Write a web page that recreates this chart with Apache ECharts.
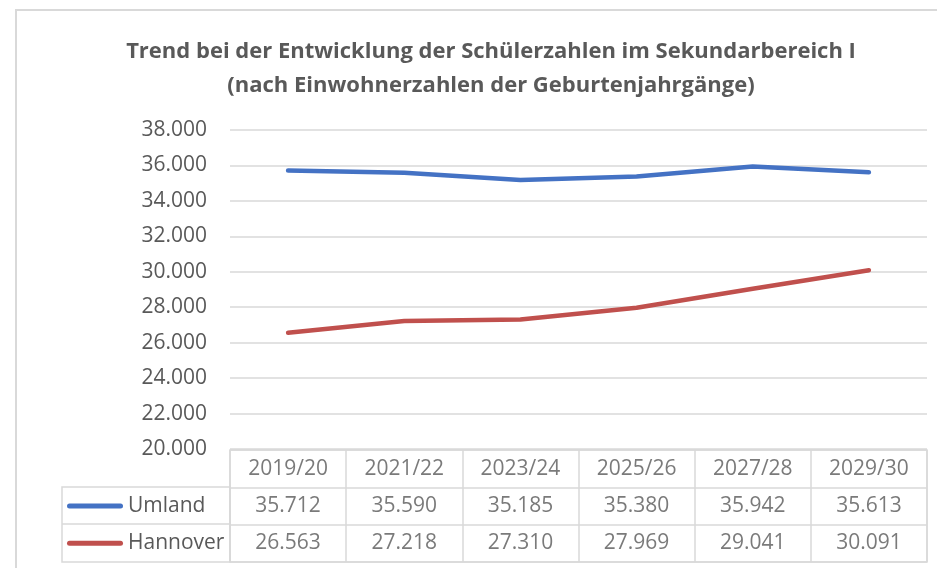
<!DOCTYPE html>
<html>
<head>
<meta charset="utf-8">
<script src="https://cdn.jsdelivr.net/npm/echarts@6/dist/echarts.min.js"></script>
<style>
  html, body { margin: 0; padding: 0; background: #fff; }
  #chart { width: 937px; height: 568px; }
</style>
</head>
<body>
<div id="chart"></div>
<script>
const years = ['2019/20', '2021/22', '2023/24', '2025/26', '2027/28', '2029/30']
const umland = [35712, 35590, 35185, 35380, 35942, 35613]
const hannover = [26563, 27218, 27310, 27969, 29041, 30091]
const seriesNames = ['Umland', 'Hannover']
const seriesColors = ['#4472C4', '#C0504D']

const textColor = '#595959'
const lineGray = '#d9d9d9'
const font = '"Open Sans", sans-serif'

const fmt = (v) => String(v).replace(/\B(?=(\d{3})+(?!\d))/g, '.')

// table cells: header row + one row per series
const tableRows = ['', ...seriesNames]
const cells = []
years.forEach((y, i) => cells.push([i, 0, y]))
;[umland, hannover].forEach((vals, r) => {
  vals.forEach((v, i) => cells.push([i, r + 1, fmt(v)]))
})

const chart = echarts.init(document.getElementById('chart'))

const option = {
  animation: false,
  textStyle: { fontFamily: font },
  title: {
    text: 'Trend bei der Entwicklung der Schülerzahlen im Sekundarbereich I\n(nach Einwohnerzahlen der Geburtenjahrgänge)',
    left: 486,
    top: 30,
    textAlign: 'center',
    textStyle: {
      fontFamily: font,
      fontSize: 22,
      fontWeight: 'bold',
      color: textColor,
      lineHeight: 34,
    },
  },
  graphic: [
    {
      type: 'rect',
      shape: { x: 16, y: 10, width: 980, height: 620 },
      style: { fill: 'none', stroke: lineGray, lineWidth: 2 },
      silent: true,
    },
    {
      type: 'rect',
      shape: { x: 62, y: 487, width: 168, height: 75 },
      style: { fill: 'none', stroke: lineGray, lineWidth: 1.5 },
      silent: true,
    },
    {
      type: 'line',
      shape: { x1: 62, y1: 524, x2: 230, y2: 524 },
      style: { stroke: lineGray, lineWidth: 1.5 },
      silent: true,
    },
  ],
  grid: [
    { left: 230, right: 10, top: 130, height: 319 },
    { left: 230, right: 10, top: 450, height: 112, show: true, borderColor: lineGray, borderWidth: 1.5 },
  ],
  xAxis: [
    {
      gridIndex: 0,
      type: 'category',
      data: years,
      boundaryGap: true,
      axisLine: { show: false },
      axisTick: { show: false },
      axisLabel: { show: false },
    },
    {
      gridIndex: 1,
      type: 'category',
      data: years,
      boundaryGap: true,
      axisLine: { show: false },
      axisTick: { show: false },
      axisLabel: { show: false },
      splitLine: { show: true, lineStyle: { color: lineGray, width: 1.5 } },
    },
  ],
  yAxis: [
    {
      gridIndex: 0,
      type: 'value',
      min: 20000,
      max: 38000,
      interval: 2000,
      axisLine: { show: false },
      axisTick: { show: false },
      axisLabel: {
        formatter: fmt,
        fontSize: 21,
        color: textColor,
        margin: 23,
      },
      splitLine: { lineStyle: { color: lineGray, width: 1.5 } },
    },
    {
      gridIndex: 1,
      type: 'category',
      data: tableRows,
      inverse: true,
      axisLine: { show: false },
      axisTick: { show: false },
      splitLine: { show: true, lineStyle: { color: lineGray, width: 1.5 } },
      axisLabel: {
        align: 'left',
        margin: 163,
        formatter: (name) => {
          const i = seriesNames.indexOf(name)
          return i < 0 ? '' : `{s${i}|}{t|${name}}`
        },
        rich: {
          s0: { width: 56, height: 5, backgroundColor: seriesColors[0], borderRadius: 3 },
          s1: { width: 56, height: 5, backgroundColor: seriesColors[1], borderRadius: 3 },
          t: { fontSize: 21, color: textColor, padding: [0, 0, 0, 5], fontFamily: font },
        },
      },
    },
  ],
  series: [
    {
      name: seriesNames[0],
      type: 'line',
      data: umland,
      symbol: 'none',
      lineStyle: { color: seriesColors[0], width: 4.5, cap: 'round', join: 'round' },
    },
    {
      name: seriesNames[1],
      type: 'line',
      data: hannover,
      symbol: 'none',
      lineStyle: { color: seriesColors[1], width: 4.5, cap: 'round', join: 'round' },
    },
    {
      type: 'scatter',
      xAxisIndex: 1,
      yAxisIndex: 1,
      data: cells,
      symbolSize: 0,
      silent: true,
      label: {
        show: true,
        position: 'inside',
        formatter: (p) => p.value[2],
        fontSize: 21,
        color: textColor,
        fontFamily: font,
      },
    },
  ],
}

chart.setOption(option)
</script>
</body>
</html>
